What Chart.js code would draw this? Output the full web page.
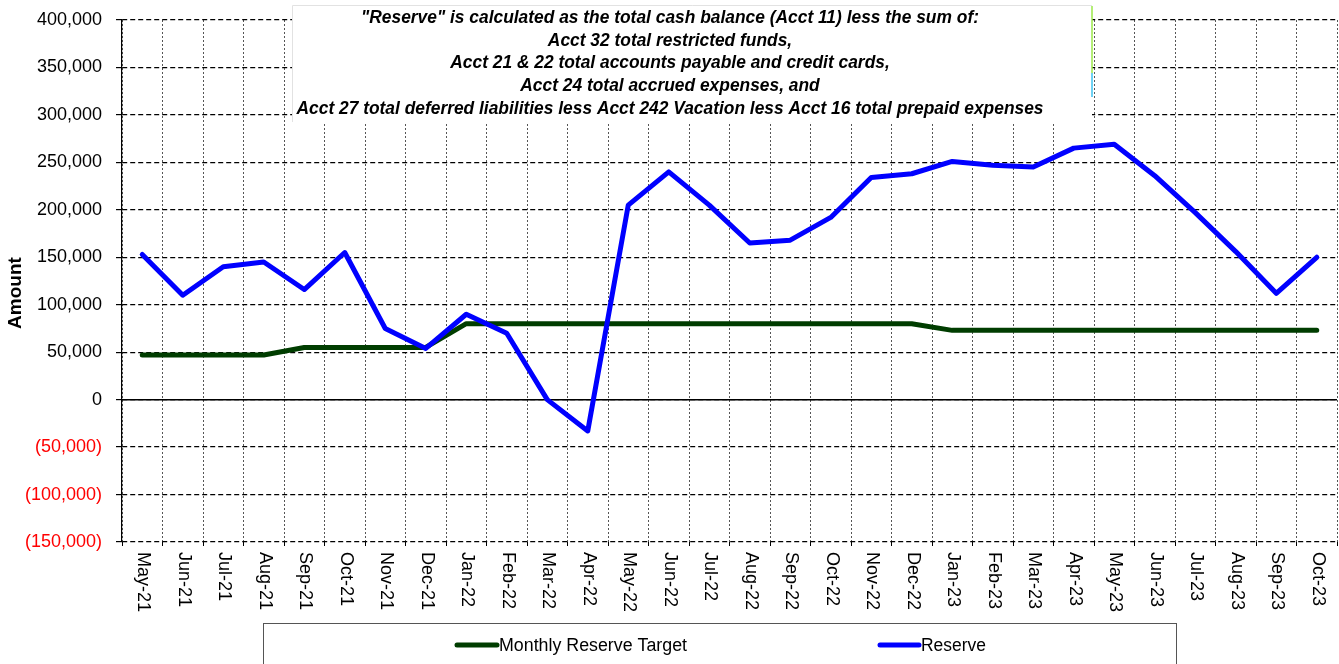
<!DOCTYPE html>
<html>
<head>
<meta charset="utf-8">
<script src="https://cdn.jsdelivr.net/npm/chart.js@4/dist/chart.umd.min.js"></script>
<style>
html,body{margin:0;padding:0;background:#fff;}
#wrap{width:1339px;height:664px;position:relative;}
</style>
</head>
<body>
<div id="wrap"><canvas id="c" width="1339" height="664"></canvas></div>
<script>
const categories = ["May-21","Jun-21","Jul-21","Aug-21","Sep-21","Oct-21","Nov-21","Dec-21",
  "Jan-22","Feb-22","Mar-22","Apr-22","May-22","Jun-22","Jul-22","Aug-22","Sep-22","Oct-22","Nov-22","Dec-22",
  "Jan-23","Feb-23","Mar-23","Apr-23","May-23","Jun-23","Jul-23","Aug-23","Sep-23","Oct-23"];
const reserveTarget = [47000,47000,47000,47000,55000,55000,55000,55000,
  80000,80000,80000,80000,80000,80000,80000,80000,80000,80000,80000,80000,
  73000,73000,73000,73000,73000,73000,73000,73000,73000,73000];
const reserve = [153000,110000,140000,145000,116000,155000,75000,54000,
  90000,70000,0,-33000,205000,240000,205000,165000,168000,192000,234000,238000,
  251000,247000,245000,265000,269000,236000,197000,156000,112000,150000];
const yMin = -150000, yMax = 400000, yStep = 50000;
const noteLines = [
  '"Reserve" is calculated as the total cash balance (Acct 11) less the sum of:',
  'Acct 32 total restricted funds,',
  'Acct 21 & 22 total accounts payable and credit cards,',
  'Acct 24 total accrued expenses, and',
  'Acct 27 total deferred liabilities less Acct 242 Vacation less Acct 16 total prepaid expenses'
];
const seriesNames = ["Monthly Reserve Target", "Reserve"];
const seriesColors = ["#003d00", "#0000ff"];

const FONT = '"Liberation Sans", Arial, sans-serif';

function fmt(v){
  const s = Math.abs(v).toLocaleString('en-US');
  return v < 0 ? '(' + s + ')' : s;
}

function drawScaledText(ctx, text, x, y, targetW, align){
  const w = ctx.measureText(text).width;
  const sx = targetW ? targetW / w : 1;
  ctx.save();
  ctx.translate(x, y);
  ctx.scale(sx, 1);
  ctx.textAlign = align || 'left';
  ctx.fillText(text, 0, 0);
  ctx.restore();
}

const custom = {
  id: 'custom',
  beforeDatasetsDraw(chart){
    const ctx = chart.ctx, y = chart.scales.y, a = chart.chartArea;
    const y0 = y.getPixelForValue(0);
    ctx.save();
    ctx.strokeStyle = '#000';
    ctx.lineWidth = 1.5;
    ctx.beginPath();
    ctx.moveTo(a.left, y0); ctx.lineTo(a.right, y0);
    ctx.stroke();
    ctx.restore();
  },
  afterDraw(chart){
    const ctx = chart.ctx, xs = chart.scales.x, a = chart.chartArea;
    ctx.save();
    // x labels rotated clockwise
    ctx.fillStyle = '#000';
    ctx.font = '18px ' + FONT;
    ctx.textBaseline = 'middle';
    categories.forEach((lab, i) => {
      const x = xs.getPixelForValue(i);
      ctx.save();
      ctx.translate(x + 1, a.bottom + 10);
      ctx.rotate(Math.PI / 2);
      ctx.textAlign = 'left';
      ctx.fillText(lab, 0, 0);
      ctx.restore();
    });
    // y title
    ctx.save();
    ctx.font = 'bold 19px ' + FONT;
    ctx.translate(16, 293);
    ctx.rotate(-Math.PI / 2);
    ctx.textAlign = 'center';
    ctx.textBaseline = 'middle';
    ctx.fillText('Amount', 0, 0);
    ctx.restore();

    // annotation box
    ctx.fillStyle = '#fff';
    ctx.fillRect(292, 5, 800, 117);
    ctx.strokeStyle = '#e2e2e2';
    ctx.lineWidth = 1;
    ctx.beginPath();
    ctx.moveTo(292.5, 122); ctx.lineTo(292.5, 5.5); ctx.lineTo(1092, 5.5);
    ctx.stroke();
    ctx.lineWidth = 1.5;
    ctx.strokeStyle = '#9be84a';
    ctx.beginPath(); ctx.moveTo(1092, 6); ctx.lineTo(1092, 73); ctx.stroke();
    ctx.strokeStyle = '#3ec3f0';
    ctx.beginPath(); ctx.moveTo(1092, 73); ctx.lineTo(1092, 97); ctx.stroke();

    ctx.fillStyle = '#000';
    ctx.font = 'italic bold 19px ' + FONT;
    ctx.textBaseline = 'middle';
    const w5 = ctx.measureText(noteLines[4]).width;
    const sc = 747 / w5;
    const ys = [18, 41, 63, 86, 109];
    noteLines.forEach((t, i) => {
      const w = ctx.measureText(t).width * sc;
      drawScaledText(ctx, t, 670, ys[i], w, 'center');
    });

    // legend
    ctx.strokeStyle = '#555';
    ctx.lineWidth = 1;
    ctx.strokeRect(263.5, 623.5, 913, 60);
    const items = [
      {x1: 457, x2: 497, tx: 499, tw: 188},
      {x1: 880, x2: 919, tx: 921, tw: 65}
    ];
    ctx.lineCap = 'round';
    items.forEach((it, i) => {
      ctx.strokeStyle = seriesColors[i];
      ctx.lineWidth = 5;
      ctx.beginPath();
      ctx.moveTo(it.x1, 645); ctx.lineTo(it.x2, 645);
      ctx.stroke();
      ctx.fillStyle = '#000';
      ctx.font = '18px ' + FONT;
      ctx.textBaseline = 'middle';
      drawScaledText(ctx, seriesNames[i], it.tx, 646, it.tw, 'left');
    });
    ctx.restore();
  }
};

new Chart(document.getElementById('c'), {
  type: 'line',
  data: {
    labels: categories,
    datasets: [
      {label: seriesNames[0], data: reserveTarget, borderColor: seriesColors[0], backgroundColor: seriesColors[0],
       borderWidth: 5, pointRadius: 0, tension: 0, order: 2, borderJoinStyle: 'round', borderCapStyle: 'round'},
      {label: seriesNames[1], data: reserve, borderColor: seriesColors[1], backgroundColor: seriesColors[1],
       borderWidth: 5, pointRadius: 0, tension: 0, order: 1, borderJoinStyle: 'round', borderCapStyle: 'round'}
    ]
  },
  options: {
    responsive: false,
    animation: false,
    devicePixelRatio: 1,
    layout: {padding: {top: 20, right: 2, bottom: 0, left: 0}},
    plugins: {legend: {display: false}, tooltip: {enabled: false}, title: {display: false}},
    scales: {
      x: {
        offset: true,
        grid: {offset: true, color: '#555', lineWidth: 1, drawTicks: true, tickLength: 4, tickColor: '#000'},
        border: {display: false, dash: [2, 2]},
        ticks: {display: false},
        afterFit(s){ s.height = 122; s.paddingLeft = 0; s.paddingRight = 0; }
      },
      y: {
        min: yMin, max: yMax,
        grid: {color: '#000', lineWidth: 1.2, drawTicks: true, tickLength: 6, tickColor: '#000'},
        border: {display: true, color: '#000', width: 1.2, dash: [5, 3]},
        ticks: {
          stepSize: yStep,
          padding: 14,
          font: {family: FONT, size: 18},
          color: c => c.tick.value < 0 ? '#ff0000' : '#000000',
          callback: v => fmt(v)
        },
        afterFit(s){ s.width = 122; s.paddingTop = 0; s.paddingBottom = 0; }
      }
    }
  },
  plugins: [custom]
});
</script>
</body>
</html>
